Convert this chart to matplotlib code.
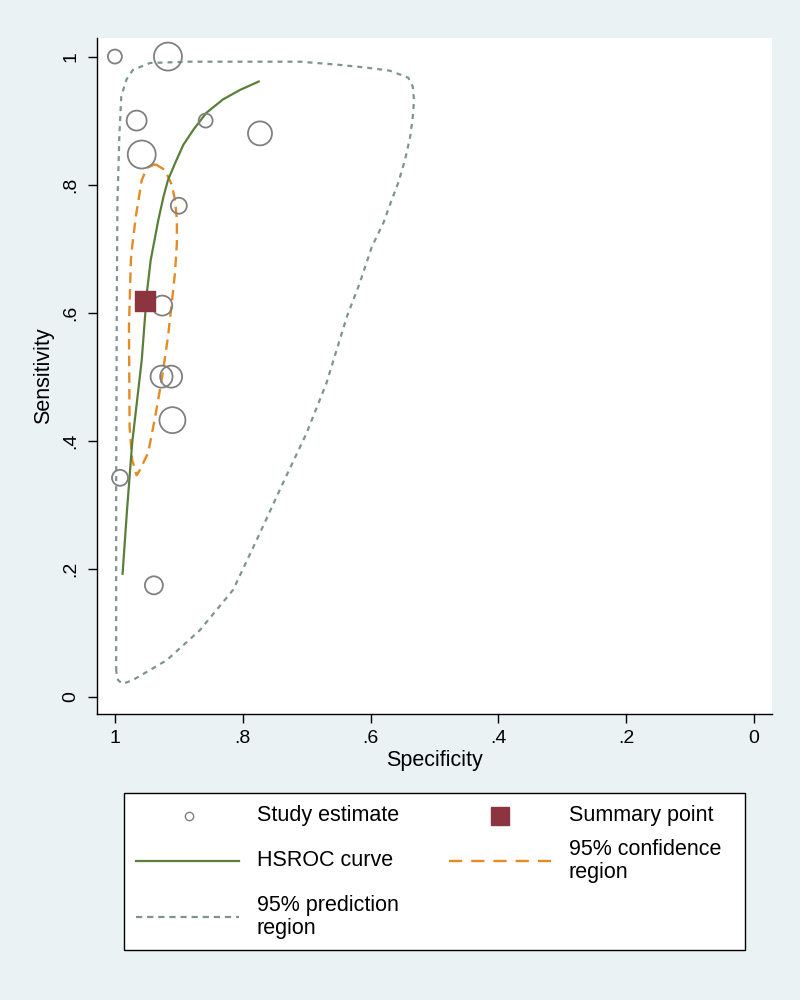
import numpy as np
import matplotlib
matplotlib.use('Agg')
import matplotlib.pyplot as plt
from matplotlib.lines import Line2D
from matplotlib.patches import Rectangle

plt.rcParams['font.family'] = ['Liberation Sans', 'DejaVu Sans']
plt.rcParams['lines.scale_dashes'] = False

# ─────────────────────────────────────────────
# DATA
# ─────────────────────────────────────────────
# study estimates: specificity, sensitivity, relative weight
study_spec = [1.000, 0.917, 0.966, 0.858, 0.773, 0.958, 0.900,
              0.926, 0.927, 0.912, 0.910, 0.992, 0.939]
study_sens = [1.000, 1.000, 0.900, 0.900, 0.880, 0.847, 0.767,
              0.611, 0.500, 0.500, 0.432, 0.342, 0.174]
study_w    = [49, 196, 100, 49, 144, 196, 64,
              100, 121, 121, 169, 64, 81]

# summary point
summ_spec = 0.953
summ_sens = 0.618

# HSROC curve
hsroc_spec = [0.988, 0.981, 0.973, 0.958, 0.950, 0.944, 0.940,
              0.932, 0.924, 0.917, 0.906, 0.893, 0.877, 0.857,
              0.831, 0.804, 0.775]
hsroc_sens = [0.192, 0.292, 0.396, 0.526, 0.631, 0.682, 0.703,
              0.745, 0.781, 0.807, 0.833, 0.862, 0.886, 0.912,
              0.933, 0.948, 0.961]

# 95% confidence region
conf_spec = [0.937, 0.922, 0.911, 0.906, 0.903, 0.903, 0.906, 0.911,
             0.917, 0.926, 0.937, 0.948, 0.961, 0.966, 0.973, 0.977,
             0.978, 0.975, 0.973, 0.967, 0.958, 0.950, 0.937]
conf_sens = [0.832, 0.823, 0.800, 0.776, 0.745, 0.709, 0.662, 0.615,
             0.562, 0.500, 0.437, 0.381, 0.354, 0.346, 0.370, 0.421,
             0.578, 0.682, 0.703, 0.752, 0.807, 0.826, 0.832]

# 95% prediction region
pred_spec = [0.998, 0.998, 0.997, 0.996, 0.995, 0.993, 0.990, 0.982,
             0.972, 0.945, 0.883, 0.710, 0.648, 0.609, 0.570, 0.541,
             0.534, 0.532, 0.534, 0.538, 0.546, 0.557, 0.567, 0.580,
             0.598, 0.617, 0.637, 0.669, 0.700, 0.737, 0.773, 0.815,
             0.867, 0.919, 0.972, 0.988, 0.995, 0.998]
pred_sens = [0.040, 0.339, 0.620, 0.776, 0.807, 0.877, 0.938, 0.964,
             0.979, 0.990, 0.992, 0.992, 0.987, 0.983, 0.978, 0.967,
             0.953, 0.932, 0.906, 0.875, 0.839, 0.802, 0.776, 0.740,
             0.703, 0.646, 0.594, 0.490, 0.412, 0.334, 0.256, 0.167,
             0.104, 0.057, 0.026, 0.020, 0.026, 0.040]

ticks = [0, 0.2, 0.4, 0.6, 0.8, 1]
tick_labels = ['0', '.2', '.4', '.6', '.8', '1']

# ─────────────────────────────────────────────
# STYLE
# ─────────────────────────────────────────────
bg      = '#eaf2f3'
c_study = '#808080'
c_summ  = '#8c3540'
c_hsroc = '#5b7f3a'
c_conf  = '#e38b25'
c_pred  = '#7d958f'

fig = plt.figure(figsize=(8, 10), dpi=100, facecolor=bg)
ax = fig.add_axes([97/800, 1 - 714/1000, 675/800, 676/1000])
ax.set_facecolor('white')

# prediction region
ax.plot(pred_spec, pred_sens, color=c_pred, lw=1.6, dashes=(3.6, 3.6),
        zorder=2)
# confidence region
ax.plot(conf_spec, conf_sens, color=c_conf, lw=1.7, dashes=(7.5, 4.5),
        zorder=3)
# HSROC curve
ax.plot(hsroc_spec, hsroc_sens, color=c_hsroc, lw=1.6, zorder=4)
# study estimates
ax.scatter(study_spec, study_sens, s=np.array(study_w) * 2.07,
           facecolors='none', edgecolors=c_study, linewidths=1.3, zorder=5)
# summary point
ax.scatter([summ_spec], [summ_sens], marker='s', s=190, color=c_summ,
           edgecolors=c_summ, zorder=6)

ax.set_xlim(1.028, -0.028)
ax.set_ylim(-0.027, 1.029)
ax.set_xticks(ticks)
ax.set_xticklabels(tick_labels)
ax.set_yticks(ticks)
ax.set_yticklabels(tick_labels)

ax.spines['top'].set_visible(False)
ax.spines['right'].set_visible(False)
for s in ('left', 'bottom'):
    ax.spines[s].set_linewidth(1.0)
ax.tick_params(axis='both', direction='out', length=6.5, width=1.0,
               labelsize=14, colors='black')
ax.tick_params(axis='x', pad=5)
ax.tick_params(axis='y', pad=6)
plt.setp(ax.get_yticklabels(), rotation=90, va='center')

ax.set_xlabel('Specificity', fontsize=15.5, labelpad=2)
ax.set_ylabel('Sensitivity', fontsize=15.5)
ax.yaxis.set_label_coords(-0.063, 0.5)

# ─────────────────────────────────────────────
# LEGEND (drawn by hand, Stata-style layout)
# ─────────────────────────────────────────────
def fx(px):
    return px / 800

def fy(py):
    return 1 - py / 1000

fig.add_artist(Rectangle((fx(124), fy(950)), fx(745) - fx(124),
                         fy(793) - fy(950), transform=fig.transFigure,
                         facecolor='white', edgecolor='black', lw=1.0))

fs_leg = 15.5
# row 1
fig.add_artist(Line2D([fx(189)], [fy(816)], marker='o', ms=6,
                      mfc='none', mec=c_study, mew=1.0, ls='none',
                      transform=fig.transFigure))
fig.text(fx(257), fy(816), 'Study estimate', fontsize=fs_leg, va='center')
fig.add_artist(Line2D([fx(500)], [fy(816)], marker='s', ms=13.5,
                      mfc=c_summ, mec=c_summ, ls='none',
                      transform=fig.transFigure))
fig.text(fx(569), fy(816), 'Summary point', fontsize=fs_leg, va='center')
# row 2
fig.add_artist(Line2D([fx(136), fx(239)], [fy(861), fy(861)],
                      color=c_hsroc, lw=1.6, transform=fig.transFigure))
fig.text(fx(257), fy(861), 'HSROC curve', fontsize=fs_leg, va='center')
fig.add_artist(Line2D([fx(449), fx(551)], [fy(861), fy(861)],
                      color=c_conf, lw=1.7, dashes=(9.5, 6.5),
                      transform=fig.transFigure))
fig.text(fx(569), fy(861), '95% confidence\nregion', fontsize=fs_leg,
         va='center', linespacing=1.1)
# row 3
fig.add_artist(Line2D([fx(136), fx(239)], [fy(917), fy(917)],
                      color=c_pred, lw=1.6, dashes=(4.5, 3.5),
                      transform=fig.transFigure))
fig.text(fx(257), fy(917), '95% prediction\nregion', fontsize=fs_leg,
         va='center', linespacing=1.1)

fig.savefig('out.png', dpi=100, facecolor=bg)
